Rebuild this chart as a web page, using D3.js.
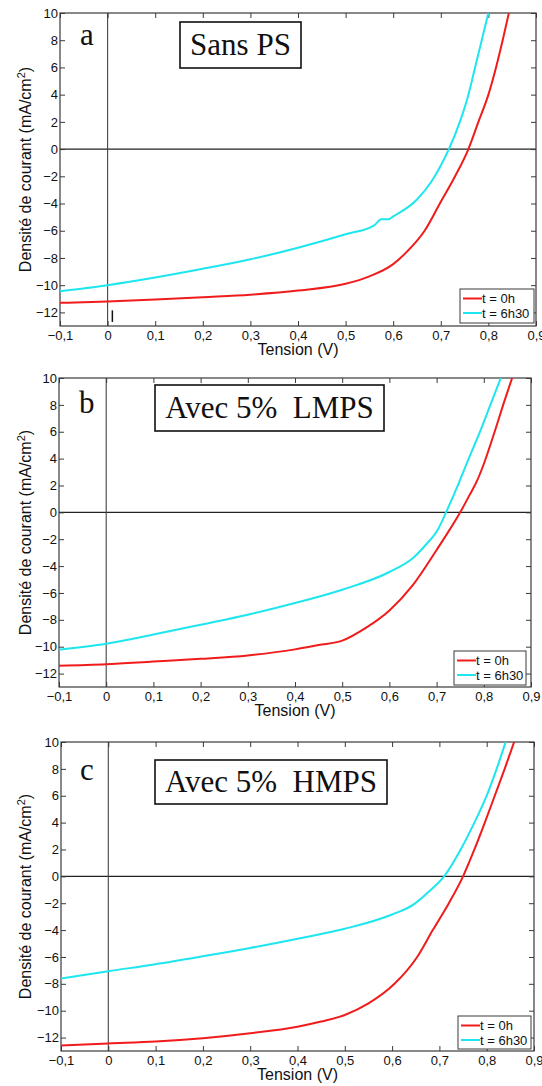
<!DOCTYPE html>
<html><head><meta charset="utf-8">
<script src="https://cdn.jsdelivr.net/npm/d3@7"></script>
<style>body{margin:0;background:#fff}svg{display:block}</style>
</head><body>
<svg id="chart" width="542" height="1086"></svg>
<script>
// ---- Data ----
const xTicks = [-0.1, 0, 0.1, 0.2, 0.3, 0.4, 0.5, 0.6, 0.7, 0.8, 0.9];
const yTicks = [-12, -10, -8, -6, -4, -2, 0, 2, 4, 6, 8, 10];
const seriesNames = ["t = 0h", "t = 6h30"];
const panelLetters = ["a", "b", "c"];
const panelTitles = ["Sans PS", "Avec 5%  LMPS", "Avec 5%  HMPS"];

// Panel a
const vA0 = [-0.1, 0, 0.1, 0.2, 0.3, 0.4, 0.5, 0.55, 0.6, 0.63, 0.666, 0.698, 0.73, 0.758, 0.779, 0.8, 0.816, 0.83, 0.843];
const jA0 = [-11.3, -11.2, -11.05, -10.88, -10.7, -10.4, -9.9, -9.35, -8.45, -7.5, -6, -4, -2, 0, 2, 4, 6, 8, 10];
const vA6 = [-0.1, 0, 0.1, 0.2, 0.3, 0.4, 0.5, 0.56, 0.575, 0.59, 0.6, 0.65, 0.68, 0.7, 0.717, 0.74, 0.758, 0.772, 0.786, 0.8];
const jA6 = [-10.44, -10.0, -9.44, -8.8, -8.1, -7.25, -6.26, -5.6, -5.16, -5.16, -4.95, -3.7, -2.4, -1.2, 0, 2, 4, 6, 8, 10];
const markA = [[0.01, -11.85], [0.01, -12.7]];

// Panel b
const vB0 = [-0.1, 0, 0.1, 0.2, 0.3, 0.4, 0.45, 0.5, 0.55, 0.6, 0.65, 0.7, 0.75, 0.77, 0.785, 0.8, 0.823, 0.841, 0.86];
const jB0 = [-11.41, -11.3, -11.1, -10.9, -10.65, -10.2, -9.88, -9.55, -8.6, -7.3, -5.4, -2.8, 0, 1.3, 2.3, 3.6, 6, 8, 10];
const vB6 = [-0.1, 0, 0.1, 0.2, 0.3, 0.4, 0.5, 0.6, 0.65, 0.68, 0.7, 0.72, 0.745, 0.768, 0.792, 0.814, 0.836];
const jB6 = [-10.22, -9.78, -9.1, -8.36, -7.62, -6.75, -5.76, -4.44, -3.4, -2.3, -1.45, 0, 2, 4, 6, 8, 10];

// Panel c
const vC0 = [-0.1, 0, 0.1, 0.2, 0.3, 0.4, 0.45, 0.5, 0.55, 0.605, 0.653, 0.686, 0.72, 0.75, 0.774, 0.796, 0.817, 0.838, 0.858];
const jC0 = [-12.59, -12.44, -12.3, -12.05, -11.68, -11.19, -10.81, -10.32, -9.46, -8, -6, -4, -2, 0, 2, 4, 6, 8, 10];
const vC6 = [-0.1, 0, 0.1, 0.2, 0.3, 0.4, 0.5, 0.6, 0.645, 0.682, 0.71, 0.745, 0.774, 0.8, 0.821, 0.84];
const jC6 = [-7.6, -7.06, -6.54, -5.95, -5.33, -4.64, -3.9, -2.84, -2.1, -1.0, 0, 2, 4, 6, 8, 10];

const panelData = [
  [d3.zip(vA0, jA0), d3.zip(vA6, jA6)],
  [d3.zip(vB0, jB0), d3.zip(vB6, jB6)],
  [d3.zip(vC0, jC0), d3.zip(vC6, jC6)]
];

// ---- Layout ----
const colors = ["#f01c1c", "#1ee6ee"];
const frames = [
  {l: 60, r: 536, t: 13, b: 326, box: [180, 22, 121, 46], letter: [80, 45], leg: [460, 289, 74, 34]},
  {l: 59, r: 531, t: 378, b: 687, box: [155, 385, 229, 46], letter: [79, 413], leg: [454, 651, 72, 34]},
  {l: 61, r: 534, t: 742, b: 1051, box: [155, 760, 232, 44], letter: [80, 780], leg: [458, 1016, 73, 33]}
];

const svg = d3.select("#chart");
const fmt = v => {
  if (Math.abs(v) < 1e-9) return "0";
  let s = (Math.round(v * 10) / 10).toString().replace(".", ",");
  return s.replace("-", "\u2212");
};
const axisColor = "#3a3a3a";

frames.forEach((f, i) => {
  const g = svg.append("g");
  const x = d3.scaleLinear().domain([-0.1, 0.9]).range([f.l, f.r]);
  const y = d3.scaleLinear().domain([-13, 10]).range([f.b, f.t]);
  const id = "clip" + i;
  g.append("clipPath").attr("id", id).append("rect")
    .attr("x", f.l).attr("y", f.t).attr("width", f.r - f.l).attr("height", f.b - f.t);

  // zero lines
  g.append("line").attr("x1", x(-0.1)).attr("x2", x(0.9)).attr("y1", y(0)).attr("y2", y(0))
    .attr("stroke", "#222").attr("stroke-width", 1.1);
  g.append("line").attr("x1", x(0)).attr("x2", x(0)).attr("y1", y(-13)).attr("y2", y(10))
    .attr("stroke", "#444").attr("stroke-width", 1.1);

  // axes with inward ticks
  const mk = (axis, tr) => {
    const a = g.append("g").attr("transform", tr).call(axis);
    a.select(".domain").remove();
    a.selectAll("line").attr("stroke", axisColor);
    a.selectAll("text").attr("font-family", "Liberation Sans, Arial, sans-serif").attr("font-size", 13).attr("fill", "#111");
    return a;
  };
  mk(d3.axisBottom(x).tickValues(xTicks).tickSize(-5).tickPadding(5).tickFormat(fmt), `translate(0,${f.b})`);
  mk(d3.axisTop(x).tickValues(xTicks).tickSize(-5).tickFormat(""), `translate(0,${f.t})`);
  mk(d3.axisLeft(y).tickValues(yTicks).tickSize(-5).tickPadding(2).tickFormat(fmt), `translate(${f.l},0)`);
  mk(d3.axisRight(y).tickValues(yTicks).tickSize(-5).tickFormat(""), `translate(${f.r},0)`);

  g.append("rect").attr("x", f.l).attr("y", f.t).attr("width", f.r - f.l).attr("height", f.b - f.t)
    .attr("fill", "none").attr("stroke", axisColor).attr("stroke-width", 1.2);

  // curves
  const line = d3.line().x(d => x(d[0])).y(d => y(d[1])).curve(d3.curveMonotoneX);
  panelData[i].forEach((s, k) => {
    g.append("path").datum(s).attr("d", line).attr("fill", "none")
      .attr("stroke", colors[k]).attr("stroke-width", 2).attr("clip-path", `url(#${id})`);
  });
  if (i === 0) {
    g.append("path").datum(markA).attr("d", d3.line().x(d => x(d[0])).y(d => y(d[1])))
      .attr("stroke", "#111").attr("stroke-width", 1.5);
  }

  // axis labels
  g.append("text").attr("x", (f.l + f.r) / 2).attr("y", f.b + 29).attr("text-anchor", "middle")
    .attr("font-family", "Liberation Sans, Arial, sans-serif").attr("font-size", 16).attr("fill", "#111")
    .text("Tension (V)");
  const yl = g.append("text").attr("transform", `translate(31,${(f.t + f.b) / 2}) rotate(-90)`)
    .attr("text-anchor", "middle").attr("font-family", "Liberation Sans, Arial, sans-serif")
    .attr("font-size", 16).attr("fill", "#111");
  yl.append("tspan").text("Densité de courant (mA/cm");
  yl.append("tspan").attr("dy", -6).attr("font-size", 11).text("2");
  yl.append("tspan").attr("dy", 6).text(")");

  // panel letter
  g.append("text").attr("x", f.letter[0]).attr("y", f.letter[1])
    .attr("font-family", "Liberation Serif, Times New Roman, serif").attr("font-size", 31).attr("fill", "#111")
    .text(panelLetters[i]);

  // title box
  const [bx, by, bw, bh] = f.box;
  g.append("rect").attr("x", bx).attr("y", by).attr("width", bw).attr("height", bh)
    .attr("fill", "#fff").attr("stroke", "#111").attr("stroke-width", 1.6);
  g.append("text").attr("x", bx + bw / 2).attr("y", by + bh / 2 + 10).attr("text-anchor", "middle")
    .attr("font-family", "Liberation Serif, Times New Roman, serif").attr("font-size", 31).attr("fill", "#111")
    .style("white-space", "pre").attr("xml:space", "preserve")
    .text(panelTitles[i]);

  // legend
  const [lx, ly, lw, lh] = f.leg;
  g.append("rect").attr("x", lx).attr("y", ly).attr("width", lw).attr("height", lh)
    .attr("fill", "#fff").attr("stroke", axisColor).attr("stroke-width", 1);
  seriesNames.forEach((n, k) => {
    const yy = ly + 9.5 + k * 14.5;
    g.append("line").attr("x1", lx + 3).attr("x2", lx + 22).attr("y1", yy).attr("y2", yy)
      .attr("stroke", colors[k]).attr("stroke-width", 2);
    g.append("text").attr("x", lx + 22).attr("y", yy + 4.5)
      .attr("font-family", "Liberation Sans, Arial, sans-serif").attr("font-size", 13).attr("fill", "#111")
      .text(n);
  });
});
</script>
</body></html>
